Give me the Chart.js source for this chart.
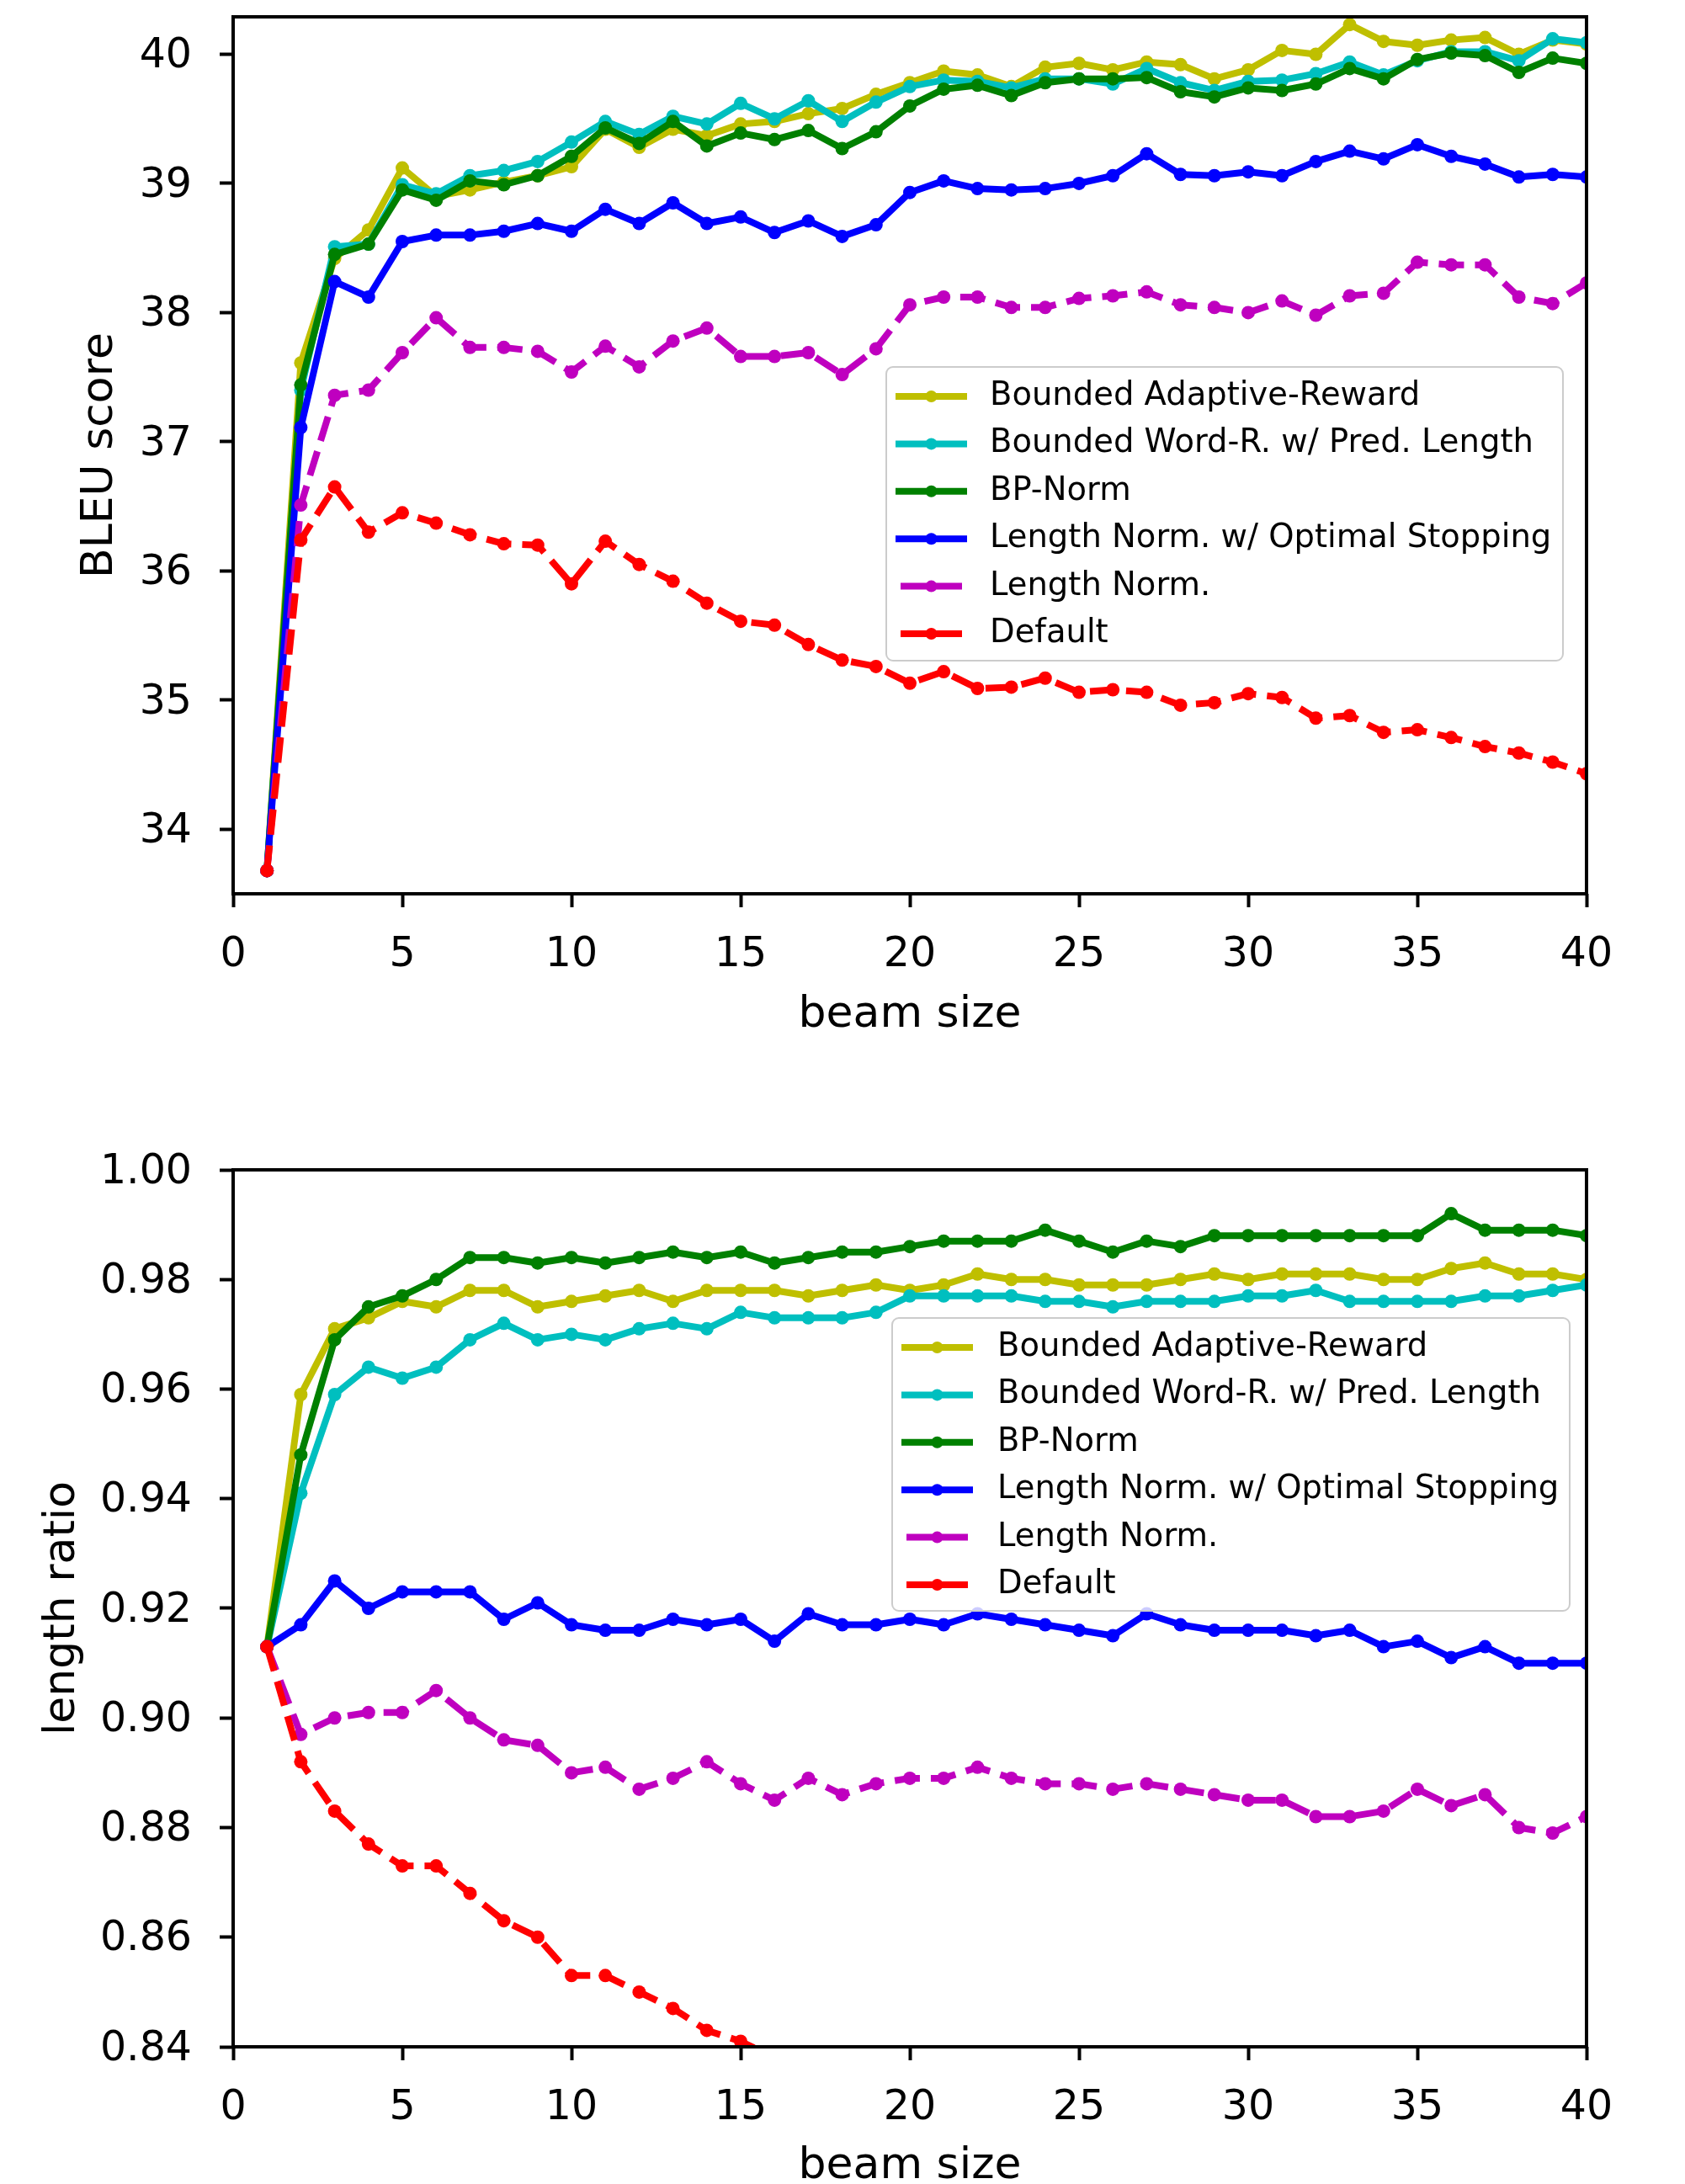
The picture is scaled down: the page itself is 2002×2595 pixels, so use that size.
<!DOCTYPE html>
<html>
<head>
<meta charset="utf-8">
<title>BLEU score and length ratio vs beam size</title>
<script src="https://cdn.jsdelivr.net/npm/chart.js"></script>
<style>
  html, body { margin: 0; padding: 0; background: #fff; overflow: hidden; }
  .panel { position: absolute; left: 0; width: 2002px; }
  #topPanel { top: 0; height: 1290px; }
  #bottomPanel { top: 1290px; height: 1340px; }
</style>
</head>
<body>
<div class="panel" id="topPanel"><canvas id="bleuChart" width="2002" height="1290"></canvas></div>
<div class="panel" id="bottomPanel"><canvas id="ratioChart" width="2002" height="1340"></canvas></div>
<script>
// x values (beam size)
const beamSizes = [1, 2, 3, 4, 5, 6, 7, 8, 9, 10, 11, 12, 13, 14, 15, 16, 17, 18, 19, 20,
                   21, 22, 23, 24, 25, 26, 27, 28, 29, 30, 31, 32, 33, 34, 35, 36, 37, 38, 39, 40];
const xTicks = [0, 5, 10, 15, 20, 25, 30, 35, 40];
const bleuTicks = [34, 35, 36, 37, 38, 39, 40];
const ratioTicks = [0.84, 0.86, 0.88, 0.90, 0.92, 0.94, 0.96, 0.98, 1.00];

const seriesNames = [
    'Bounded Adaptive-Reward',
    'Bounded Word-R. w/ Pred. Length',
    'BP-Norm',
    'Length Norm. w/ Optimal Stopping',
    'Length Norm.',
    'Default'
];

// BLEU score
const bleuAdaptive = [33.68, 37.61, 38.42, 38.64, 39.12, 38.90, 38.95, 39.01, 39.06, 39.13,
                      39.42, 39.28, 39.42, 39.37, 39.46, 39.48, 39.54, 39.58, 39.69, 39.78,
                      39.87, 39.84, 39.75, 39.90, 39.93, 39.88, 39.94, 39.92, 39.81, 39.88,
                      40.03, 40.00, 40.23, 40.10, 40.07, 40.11, 40.13, 40.00, 40.11, 40.08];
const bleuWordR = [33.68, 37.40, 38.51, 38.53, 38.99, 38.92, 39.06, 39.10, 39.17, 39.32,
                   39.48, 39.38, 39.52, 39.46, 39.62, 39.50, 39.64, 39.48, 39.63, 39.75,
                   39.80, 39.79, 39.74, 39.81, 39.81, 39.77, 39.89, 39.78, 39.72, 39.79,
                   39.80, 39.85, 39.94, 39.84, 39.95, 40.02, 40.02, 39.95, 40.12, 40.09];
const bleuBPNorm = [33.68, 37.44, 38.45, 38.53, 38.95, 38.87, 39.02, 38.99, 39.06, 39.21,
                    39.43, 39.31, 39.48, 39.29, 39.39, 39.34, 39.41, 39.27, 39.40, 39.60,
                    39.73, 39.76, 39.68, 39.78, 39.81, 39.81, 39.82, 39.71, 39.67, 39.74,
                    39.72, 39.77, 39.89, 39.81, 39.96, 40.01, 39.99, 39.86, 39.97, 39.93];
const bleuLNStop = [33.68, 37.11, 38.24, 38.12, 38.55, 38.60, 38.60, 38.63, 38.69, 38.63,
                    38.80, 38.69, 38.85, 38.69, 38.74, 38.62, 38.71, 38.59, 38.68, 38.93,
                    39.02, 38.96, 38.95, 38.96, 39.00, 39.06, 39.23, 39.07, 39.06, 39.09,
                    39.06, 39.17, 39.25, 39.19, 39.30, 39.21, 39.15, 39.05, 39.07, 39.05];
const bleuLN = [33.68, 36.51, 37.36, 37.40, 37.69, 37.96, 37.73, 37.73, 37.70, 37.54,
                37.74, 37.58, 37.78, 37.88, 37.66, 37.66, 37.69, 37.52, 37.72, 38.06,
                38.12, 38.12, 38.04, 38.04, 38.11, 38.13, 38.16, 38.06, 38.04, 38.00,
                38.09, 37.98, 38.13, 38.15, 38.39, 38.37, 38.37, 38.12, 38.07, 38.23];
const bleuDefault = [33.68, 36.24, 36.65, 36.30, 36.45, 36.37, 36.28, 36.21, 36.20, 35.90,
                     36.23, 36.05, 35.92, 35.75, 35.61, 35.58, 35.43, 35.31, 35.26, 35.13,
                     35.22, 35.09, 35.10, 35.17, 35.06, 35.08, 35.06, 34.96, 34.98, 35.05,
                     35.02, 34.86, 34.88, 34.75, 34.77, 34.71, 34.64, 34.59, 34.52, 34.43];

// length ratio
const ratioAdaptive = [0.913, 0.959, 0.971, 0.973, 0.976, 0.975, 0.978, 0.978, 0.975, 0.976,
                       0.977, 0.978, 0.976, 0.978, 0.978, 0.978, 0.977, 0.978, 0.979, 0.978,
                       0.979, 0.981, 0.980, 0.980, 0.979, 0.979, 0.979, 0.980, 0.981, 0.980,
                       0.981, 0.981, 0.981, 0.980, 0.980, 0.982, 0.983, 0.981, 0.981, 0.980];
const ratioWordR = [0.913, 0.941, 0.959, 0.964, 0.962, 0.964, 0.969, 0.972, 0.969, 0.970,
                    0.969, 0.971, 0.972, 0.971, 0.974, 0.973, 0.973, 0.973, 0.974, 0.977,
                    0.977, 0.977, 0.977, 0.976, 0.976, 0.975, 0.976, 0.976, 0.976, 0.977,
                    0.977, 0.978, 0.976, 0.976, 0.976, 0.976, 0.977, 0.977, 0.978, 0.979];
const ratioBPNorm = [0.913, 0.948, 0.969, 0.975, 0.977, 0.980, 0.984, 0.984, 0.983, 0.984,
                     0.983, 0.984, 0.985, 0.984, 0.985, 0.983, 0.984, 0.985, 0.985, 0.986,
                     0.987, 0.987, 0.987, 0.989, 0.987, 0.985, 0.987, 0.986, 0.988, 0.988,
                     0.988, 0.988, 0.988, 0.988, 0.988, 0.992, 0.989, 0.989, 0.989, 0.988];
const ratioLNStop = [0.913, 0.917, 0.925, 0.920, 0.923, 0.923, 0.923, 0.918, 0.921, 0.917,
                     0.916, 0.916, 0.918, 0.917, 0.918, 0.914, 0.919, 0.917, 0.917, 0.918,
                     0.917, 0.919, 0.918, 0.917, 0.916, 0.915, 0.919, 0.917, 0.916, 0.916,
                     0.916, 0.915, 0.916, 0.913, 0.914, 0.911, 0.913, 0.910, 0.910, 0.910];
const ratioLN = [0.913, 0.897, 0.900, 0.901, 0.901, 0.905, 0.900, 0.896, 0.895, 0.890,
                 0.891, 0.887, 0.889, 0.892, 0.888, 0.885, 0.889, 0.886, 0.888, 0.889,
                 0.889, 0.891, 0.889, 0.888, 0.888, 0.887, 0.888, 0.887, 0.886, 0.885,
                 0.885, 0.882, 0.882, 0.883, 0.887, 0.884, 0.886, 0.880, 0.879, 0.882];
// Default drops below the axis after beam 15; the rest is off the plot
const ratioDefault = [0.913, 0.892, 0.883, 0.877, 0.873, 0.873, 0.868, 0.863, 0.860, 0.853,
                      0.853, 0.850, 0.847, 0.843, 0.841, 0.838];

const seriesColors = ['#bfbf00', '#00bfbf', '#008000', '#0000ff', '#bf00bf', '#ff0000'];
const seriesDashed = [false, false, false, false, true, true];

Chart.defaults.font.family = '"DejaVu Sans", sans-serif';
Chart.defaults.color = '#000';

function makeDataset(i, values) {
    const pts = [];
    values.forEach((v, j) => pts.push({ x: beamSizes[j], y: v }));
    return {
        label: seriesNames[i],
        data: pts,
        borderColor: seriesColors[i],
        backgroundColor: seriesColors[i],
        borderWidth: 8,
        borderDash: seriesDashed[i] ? [30, 13] : [],
        borderJoinStyle: 'round',
        pointRadius: 8,
        pointHoverRadius: 8,
        pointBorderWidth: 0,
        tension: 0,
        fill: false,
        clip: 0,
        order: 6 - i   // later series drawn on top, like the original
    };
}

// black box around plot area
const framePlugin = {
    id: 'frame',
    afterDatasetsDraw(chart) {
        const { ctx, chartArea: a } = chart;
        ctx.save();
        ctx.strokeStyle = '#000';
        ctx.lineWidth = 4;
        ctx.strokeRect(a.left, a.top, a.right - a.left, a.bottom - a.top);
        ctx.restore();
    }
};

// legend box drawn inside the plot
const boxLegendPlugin = {
    id: 'boxLegend',
    afterDraw(chart, args, o) {
        const ctx = chart.ctx;
        ctx.save();
        ctx.beginPath();
        ctx.roundRect(o.left, o.top, o.width, o.height, 8);
        ctx.fillStyle = 'rgba(255,255,255,0.8)';
        ctx.fill();
        ctx.strokeStyle = '#cccccc';
        ctx.lineWidth = 2;
        ctx.stroke();
        chart.data.datasets.forEach((ds, i) => {
            const y = o.firstRow + i * o.rowGap;
            const inset = ds.borderDash.length ? 6 : 0;
            ctx.strokeStyle = ds.borderColor;
            ctx.lineWidth = 8;
            ctx.lineCap = 'butt';
            ctx.beginPath();
            ctx.moveTo(o.handleLeft + inset, y);
            ctx.lineTo(o.handleRight - inset, y);
            ctx.stroke();
            ctx.fillStyle = ds.borderColor;
            ctx.beginPath();
            ctx.arc((o.handleLeft + o.handleRight) / 2, y, 7, 0, Math.PI * 2);
            ctx.fill();
            ctx.fillStyle = '#000';
            ctx.font = '38.5px "DejaVu Sans"';
            ctx.textAlign = 'left';
            ctx.textBaseline = 'middle';
            ctx.fillText(ds.label, o.textLeft, y);
        });
        ctx.restore();
    }
};

function buildChart(canvasId, cfg) {
    const ctx = document.getElementById(canvasId);
    return new Chart(ctx, {
        type: 'line',
        data: { datasets: cfg.datasets },
        options: {
            responsive: false,
            animation: false,
            events: [],
            layout: { padding: { left: 20, right: 117, top: cfg.areaTop, bottom: 0 } },
            plugins: {
                legend: { display: false },
                tooltip: { enabled: false },
                boxLegend: cfg.legend
            },
            scales: {
                x: {
                    type: 'linear',
                    min: 0,
                    max: 40,
                    afterBuildTicks: s => { s.ticks = xTicks.map(v => ({ value: v })); },
                    afterFit: s => { s.height = cfg.xAxisHeight; s.paddingLeft = 0; s.paddingRight = 0; },
                    grid: { display: true, drawOnChartArea: false, drawTicks: true, tickLength: 16, tickWidth: 4, tickColor: '#000' },
                    border: { display: false },
                    ticks: { color: '#000', font: { size: 49 }, padding: cfg.xTickPad, maxRotation: 0, autoSkip: false },
                    title: { display: true, text: 'beam size', color: '#000', font: { size: 52 }, padding: { top: 0, bottom: cfg.xTitlePad } }
                },
                y: {
                    type: 'linear',
                    min: cfg.yMin,
                    max: cfg.yMax,
                    afterBuildTicks: s => { s.ticks = cfg.yTicks.map(v => ({ value: v })); },
                    afterFit: s => { s.width = 257; s.paddingTop = 0; s.paddingBottom = 0; },
                    grid: { display: true, drawOnChartArea: false, drawTicks: true, tickLength: 16, tickWidth: 4, tickColor: '#000' },
                    border: { display: false },
                    ticks: { color: '#000', font: { size: 49 }, padding: 33, labelOffset: 3, callback: cfg.yFormat },
                    title: { display: true, text: cfg.yTitle, color: '#000', font: { size: 52 }, padding: { top: cfg.yTitlePad, bottom: 0 } }
                }
            }
        },
        plugins: [framePlugin, boxLegendPlugin]
    });
}

let bleuChart, ratioChart;

document.addEventListener('DOMContentLoaded', () => {
    bleuChart = buildChart('bleuChart', {
        datasets: [
            makeDataset(0, bleuAdaptive),
            makeDataset(1, bleuWordR),
            makeDataset(2, bleuBPNorm),
            makeDataset(3, bleuLNStop),
            makeDataset(4, bleuLN),
            makeDataset(5, bleuDefault)
        ],
        areaTop: 20,
        xAxisHeight: 228,
        xTickPad: 28,
        xTitlePad: 52,
        yMin: 33.5,
        yMax: 40.29,
        yTicks: bleuTicks,
        yFormat: v => String(v),
        yTitle: 'BLEU score',
        yTitlePad: 68,
        legend: { left: 1053, top: 436, width: 804, height: 349, firstRow: 471, rowGap: 56.4,
                  handleLeft: 1064, handleRight: 1149, textLeft: 1176 }
    });

    ratioChart = buildChart('ratioChart', {
        datasets: [
            makeDataset(0, ratioAdaptive),
            makeDataset(1, ratioWordR),
            makeDataset(2, ratioBPNorm),
            makeDataset(3, ratioLNStop),
            makeDataset(4, ratioLN),
            makeDataset(5, ratioDefault)
        ],
        areaTop: 100,
        xAxisHeight: 198,
        xTickPad: 28,
        xTitlePad: 24,
        yMin: 0.84,
        yMax: 1.00,
        yTicks: ratioTicks,
        yFormat: v => Number(v).toFixed(2),
        yTitle: 'length ratio',
        yTitlePad: 23,
        legend: { left: 1060, top: 276, width: 805, height: 348, firstRow: 311, rowGap: 56.4,
                  handleLeft: 1071, handleRight: 1156, textLeft: 1185 }
    });
});
</script>
</body>
</html>
